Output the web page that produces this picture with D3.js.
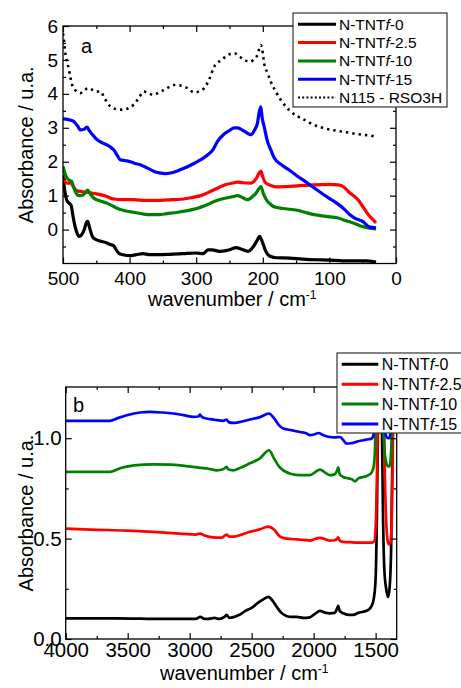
<!DOCTYPE html>
<html>
<head>
<meta charset="utf-8">
<script src="https://cdn.jsdelivr.net/npm/d3@7"></script>
<style>
body{margin:0;background:#fff;}
svg text{font-family:"Liberation Sans",Arial,sans-serif;fill:#000;}
</style>
</head>
<body>
<div id="main_div"></div>
<script>
// ---- panel a : far IR (wavenumber, absorbance) ----
let farN0=[[500,1.6],[497,1.1],[494,0.85],[491,0.78],[488,0.72],[485,0.4],[482,0.1],[479,-0.1],[476,-0.2],[472,-0.15],[468,0.0],[465,0.2],[463,0.24],[460,0.05],[456,-0.2],[452,-0.28],[444,-0.34],[436,-0.38],[429,-0.44],[424,-0.48],[420,-0.6],[416,-0.7],[410,-0.74],[400,-0.77],[390,-0.74],[380,-0.71],[370,-0.74],[355,-0.74],[340,-0.73],[320,-0.71],[300,-0.69],[290,-0.71],[282,-0.6],[276,-0.6],[265,-0.64],[255,-0.62],[248,-0.58],[240,-0.53],[232,-0.58],[222,-0.64],[214,-0.5],[208,-0.3],[205,-0.2],[201,-0.35],[196,-0.62],[190,-0.78],[180,-0.83],[160,-0.84],[140,-0.87],[120,-0.89],[100,-0.9],[80,-0.92],[60,-0.92],[45,-0.92],[30,-0.96]];
let farN25=[[500,1.52],[497,1.42],[494,1.37],[488,1.37],[484,1.25],[479,1.14],[472,1.12],[464,1.1],[455,1.07],[444,1.03],[435,0.98],[424,0.9],[410,0.88],[394,0.88],[375,0.86],[354,0.86],[335,0.88],[319,0.9],[305,0.95],[293,1.0],[278,1.13],[265,1.25],[255,1.33],[243,1.38],[238,1.4],[230,1.38],[218,1.37],[210,1.5],[205,1.68],[203,1.72],[200,1.55],[196,1.38],[188,1.3],[180,1.26],[165,1.27],[148,1.29],[123,1.32],[100,1.33],[87,1.32],[78,1.25],[72,1.13],[64,1.0],[57,0.88],[50,0.68],[42,0.45],[36,0.32],[30,0.2]];
let farN10=[[500,1.86],[497,1.65],[494,1.52],[490,1.45],[487,1.42],[484,1.25],[481,1.1],[476,1.0],[470,1.02],[466,1.1],[463,1.16],[459,1.05],[454,0.93],[445,0.85],[434,0.78],[424,0.68],[414,0.59],[404,0.54],[394,0.51],[380,0.46],[369,0.44],[356,0.44],[344,0.47],[328,0.51],[313,0.56],[298,0.63],[283,0.74],[270,0.85],[255,0.93],[243,0.98],[238,1.0],[230,0.94],[223,0.88],[215,0.98],[210,1.08],[206,1.2],[203,1.27],[199,1.05],[193,0.83],[188,0.74],[183,0.67],[170,0.62],[148,0.57],[135,0.5],[123,0.44],[105,0.39],[87,0.34],[75,0.26],[62,0.18],[52,0.1],[42,0.05],[30,0.02]];
let farN15=[[500,3.26],[492,3.24],[484,3.19],[478,3.05],[474,2.94],[469,2.95],[464,3.02],[460,2.9],[455,2.78],[449,2.65],[440,2.55],[430,2.45],[424,2.35],[419,2.2],[414,2.06],[406,2.03],[399,2.0],[392,1.95],[384,1.91],[374,1.82],[364,1.72],[355,1.67],[346,1.65],[335,1.68],[324,1.76],[310,1.88],[293,2.06],[283,2.2],[275,2.35],[268,2.6],[260,2.78],[250,2.92],[243,3.0],[238,3.0],[228,2.9],[218,2.8],[212,2.95],[208,3.14],[205,3.5],[203,3.62],[201,3.3],[198,3.04],[193,2.6],[188,2.35],[183,2.12],[170,1.88],[160,1.75],[148,1.57],[135,1.4],[123,1.23],[110,1.05],[97,0.88],[87,0.75],[77,0.59],[70,0.45],[62,0.34],[55,0.28],[50,0.24],[45,0.15],[40,0.08],[30,0.05]];
let farN115=[[500,5.78],[498,5.5],[497,5.29],[494,4.95],[492,4.8],[489,4.5],[487,4.31],[482,4.12],[478,4.05],[474,4.02],[468,4.1],[462,4.17],[456,4.12],[450,4.07],[444,4.07],[437,3.85],[429,3.63],[420,3.55],[409,3.53],[400,3.6],[394,3.68],[386,3.88],[379,4.07],[372,4.02],[364,3.97],[355,4.05],[345,4.15],[334,4.26],[325,4.25],[313,4.17],[303,4.04],[295,4.08],[288,4.17],[280,4.45],[273,4.8],[262,5.0],[252,5.15],[243,5.2],[236,5.12],[228,5.0],[218,4.95],[212,5.05],[208,5.15],[205,5.35],[203,5.44],[200,5.2],[198,4.9],[193,4.62],[188,4.36],[180,4.05],[173,3.82],[165,3.62],[158,3.48],[148,3.34],[138,3.24],[128,3.13],[117,3.04],[107,2.98],[97,2.94],[85,2.9],[72,2.86],[60,2.82],[47,2.79],[38,2.77],[30,2.74]];

// ---- panel b : mid IR ----
let midN0=[[4000,0.103],[3600,0.103],[3200,0.1],[2950,0.1],[2915,0.11],[2880,0.1],[2850,0.1],[2800,0.105],[2760,0.1],[2720,0.11],[2702,0.12],[2680,0.105],[2640,0.11],[2600,0.12],[2550,0.14],[2500,0.155],[2450,0.18],[2400,0.2],[2366,0.21],[2330,0.19],[2298,0.16],[2260,0.13],[2220,0.115],[2180,0.11],[2137,0.11],[2080,0.105],[2030,0.108],[1990,0.125],[1949,0.14],[1900,0.13],[1869,0.128],[1830,0.13],[1812,0.15],[1802,0.165],[1790,0.14],[1761,0.128],[1720,0.12],[1681,0.12],[1640,0.13],[1600,0.136],[1560,0.145],[1532,0.165],[1515,0.2],[1500,0.3],[1490,0.6],[1480,1.1],[1470,1.5],[1460,1.5],[1450,1.1],[1440,0.6],[1430,0.35],[1415,0.25],[1400,0.21],[1388,0.25],[1375,0.45],[1365,0.9],[1355,1.4],[1340,1.5],[1330,1.5]];
let midN25=[[4000,0.55],[3800,0.545],[3508,0.54],[3200,0.53],[2950,0.52],[2917,0.525],[2880,0.515],[2850,0.51],[2780,0.505],[2740,0.505],[2702,0.52],[2680,0.51],[2640,0.51],[2580,0.52],[2514,0.534],[2433,0.546],[2366,0.56],[2320,0.545],[2272,0.51],[2220,0.5],[2137,0.496],[2080,0.494],[2030,0.49],[1990,0.498],[1949,0.504],[1900,0.495],[1869,0.49],[1830,0.492],[1810,0.5],[1802,0.506],[1790,0.49],[1761,0.484],[1700,0.482],[1600,0.48],[1530,0.48],[1512,0.485],[1500,0.55],[1490,0.8],[1480,1.2],[1470,1.5],[1445,1.5],[1435,1.2],[1425,0.8],[1412,0.55],[1400,0.48],[1390,0.47],[1380,0.48],[1370,0.6],[1360,1.0],[1350,1.5],[1330,1.5]];
let midN10=[[4000,0.832],[3643,0.832],[3600,0.84],[3562,0.85],[3450,0.865],[3294,0.87],[3150,0.868],[2971,0.857],[2850,0.848],[2780,0.84],[2730,0.845],[2702,0.857],[2690,0.845],[2648,0.84],[2600,0.85],[2514,0.875],[2433,0.9],[2360,0.94],[2320,0.9],[2280,0.86],[2245,0.84],[2180,0.822],[2110,0.816],[2030,0.816],[1990,0.83],[1949,0.844],[1910,0.83],[1869,0.816],[1830,0.82],[1810,0.84],[1802,0.855],[1790,0.82],[1761,0.807],[1720,0.8],[1690,0.795],[1667,0.785],[1640,0.8],[1600,0.807],[1560,0.815],[1532,0.83],[1515,0.86],[1505,0.95],[1495,1.2],[1485,1.4],[1460,1.4],[1445,1.15],[1430,0.95],[1415,0.88],[1400,0.86],[1388,0.86],[1378,0.9],[1368,1.05],[1358,1.3],[1345,1.4],[1330,1.4]];
let midN15=[[4000,1.086],[3643,1.086],[3580,1.1],[3508,1.114],[3400,1.128],[3320,1.131],[3220,1.128],[3132,1.123],[3050,1.115],[2971,1.106],[2930,1.108],[2917,1.118],[2900,1.105],[2863,1.098],[2800,1.092],[2729,1.086],[2702,1.093],[2685,1.08],[2648,1.076],[2600,1.08],[2514,1.093],[2433,1.105],[2360,1.123],[2320,1.1],[2280,1.065],[2245,1.048],[2180,1.04],[2110,1.031],[2060,1.025],[2030,1.015],[1990,1.02],[1963,1.026],[1920,1.015],[1869,1.006],[1830,1.004],[1788,1.006],[1760,0.99],[1734,0.973],[1700,0.975],[1681,0.977],[1640,0.985],[1600,0.99],[1560,0.995],[1532,0.998],[1515,1.02],[1505,1.1],[1495,1.3],[1480,1.4],[1460,1.4],[1445,1.2],[1430,1.05],[1415,1.01],[1400,1.0],[1388,1.0],[1378,1.05],[1368,1.2],[1355,1.4],[1330,1.4]];

let sampleNames=["N-TNTf-0","N-TNTf-2.5","N-TNTf-10","N-TNTf-15"];
let colors=["#000000","#ff0000","#008000","#0000ff"];

let farTicks=[500,400,300,200,100,0];
let farMinor=[450,350,250,150,50];
let absTicksA=[0,1,2,3,4,5,6];
let absMinorA=[-0.5,0.5,1.5,2.5,3.5,4.5,5.5];
let midTicks=[4000,3500,3000,2500,2000,1500];
let midMinor=[3750,3250,2750,2250,1750];
let absTicksB=[0,0.5,1.0];
let absMinorB=[0.25,0.75];

let svg=d3.select("#main_div").append("svg")
    .attr("width",461).attr("height",688).attr("id","main_svg");

drawPanel({
    id:"a", x0:63, x1:396, y0:26, y1:263.5,
    xDomain:[500,0], yDomain:[-1,6],
    xTicks:farTicks, xMinor:farMinor, yTicks:absTicksA, yMinor:absMinorA,
    yFormat:d3.format("d"), tickFont:19, xPad:8, yPad:5,
    series:[farN0,farN25,farN10,farN15], dotted:farN115, lineW:3.2,
    xTitle:[148,306], yTitleX:33, letter:[81,53]
});
drawPanel({
    id:"b", x0:65.7, x1:396.7, y0:387, y1:639,
    xDomain:[4000,1330], yDomain:[0,1.255],
    xTicks:midTicks, xMinor:midMinor, yTicks:absTicksB, yMinor:absMinorB,
    yFormat:d3.format(".1f"), tickFont:20.5, xPad:3, yPad:4,
    series:[midN0,midN25,midN10,midN15], dotted:null, lineW:2.7,
    xTitle:[160,680], yTitleX:33, letter:[73,412]
});
drawLegend(293,13,154,94,18.3,298,336,339,15.5,true);
drawLegend(337,353,126,80,19.9,341.7,378.3,381.7,16,false);

function drawPanel(p){
    let xScale=d3.scaleLinear().domain(p.xDomain).range([p.x0,p.x1]);
    let yScale=d3.scaleLinear().domain(p.yDomain).range([p.y1,p.y0]);
    let g=svg.append("g").attr("id","panel_"+p.id);

    g.append("clipPath").attr("id","clip_"+p.id)
        .append("rect").attr("x",p.x0).attr("y",p.y0)
        .attr("width",p.x1-p.x0).attr("height",p.y1-p.y0);

    /**curves**/
    let line=d3.line().x(d=>xScale(d[0])).y(d=>yScale(d[1])).curve(d3.curveMonotoneX);
    let plot=g.append("g").attr("clip-path","url(#clip_"+p.id+")");
    p.series.forEach(function(s,i){
        plot.append("path").datum(s).attr("d",line)
            .attr("fill","none").attr("stroke",colors[i])
            .attr("stroke-width",p.lineW).attr("stroke-linejoin","round");
    });
    if(p.dotted){
        plot.append("path").datum(p.dotted).attr("d",line)
            .attr("fill","none").attr("stroke","#000")
            .attr("stroke-width",2.6).attr("stroke-dasharray","2.4,4");
    }

    /**axes, ticks point inward**/
    let axes=[
        [d3.axisBottom(xScale),p.y1,"x",true],
        [d3.axisTop(xScale),p.y0,"x",false],
        [d3.axisLeft(yScale),p.x0,"y",true],
        [d3.axisRight(yScale),p.x1,"y",false]
    ];
    axes.forEach(function(a){
        let isX=a[2]=="x";
        let pos=isX?"translate(0,"+a[1]+")":"translate("+a[1]+",0)";
        let major=a[0].tickValues(isX?p.xTicks:p.yTicks).tickSize(-6)
            .tickPadding(isX?p.xPad:p.yPad)
            .tickFormat(a[3]?(isX?d3.format("d"):p.yFormat):"");
        let gm=g.append("g").attr("transform",pos).call(major);
        gm.select(".domain").remove();
        gm.selectAll("line").attr("stroke","#000").attr("stroke-width",1.2);
        gm.selectAll("text").style("font-size",p.tickFont+"px").attr("fill","#000");

        let minorAxis=(isX?(a[3]?d3.axisBottom(xScale):d3.axisTop(xScale))
                          :(a[3]?d3.axisLeft(yScale):d3.axisRight(yScale)))
            .tickValues(isX?p.xMinor:p.yMinor).tickSize(-3).tickFormat("");
        let gn=g.append("g").attr("transform",pos).call(minorAxis);
        gn.select(".domain").remove();
        gn.selectAll("line").attr("stroke","#000").attr("stroke-width",1.2);
    });

    g.append("rect").attr("x",p.x0).attr("y",p.y0)
        .attr("width",p.x1-p.x0).attr("height",p.y1-p.y0)
        .attr("fill","none").attr("stroke","#000").attr("stroke-width",1.3);

    /**titles**/
    let xt=g.append("text").attr("x",p.xTitle[0]).attr("y",p.xTitle[1])
        .style("font-size","20px");
    xt.append("tspan").text("wavenumber / cm");
    xt.append("tspan").text("-1").attr("dy",-7).style("font-size","12px");

    g.append("text")
        .attr("transform","translate("+p.yTitleX+","+((p.y0+p.y1)/2)+") rotate(-90)")
        .attr("text-anchor","middle").style("font-size","20px")
        .text("Absorbance / u.a.");

    g.append("text").attr("x",p.letter[0]).attr("y",p.letter[1])
        .style("font-size","20px").text(p.id);
}

function drawLegend(x,y,w,h,step,lx0,lx1,tx,fs,withDotted){
    let g=svg.append("g").attr("class","legend");
    g.append("rect").attr("x",x).attr("y",y).attr("width",w).attr("height",h)
        .attr("fill","#fff").attr("stroke","#333").attr("stroke-width",1.2);
    let rows=sampleNames.map((n,i)=>({name:n,color:colors[i],dotted:false}));
    if(withDotted) rows.push({name:"N115 - RSO3H",color:"#000",dotted:true});
    rows.forEach(function(r,i){
        let cy=y+11.3+i*step;
        g.append("line").attr("x1",lx0).attr("x2",lx1).attr("y1",cy).attr("y2",cy)
            .attr("stroke",r.color).attr("stroke-width",r.dotted?2.2:3)
            .attr("stroke-dasharray",r.dotted?"2,2.2":null);
        let t=g.append("text").attr("x",tx).attr("y",cy).attr("dy","0.36em")
            .style("font-size",fs+"px");
        if(r.dotted){ t.text(r.name); return; }
        let parts=r.name.split("f");
        t.append("tspan").text(parts[0]);
        t.append("tspan").text("f").style("font-style","italic");
        t.append("tspan").text(parts[1]);
    });
}
</script>
</body>
</html>
